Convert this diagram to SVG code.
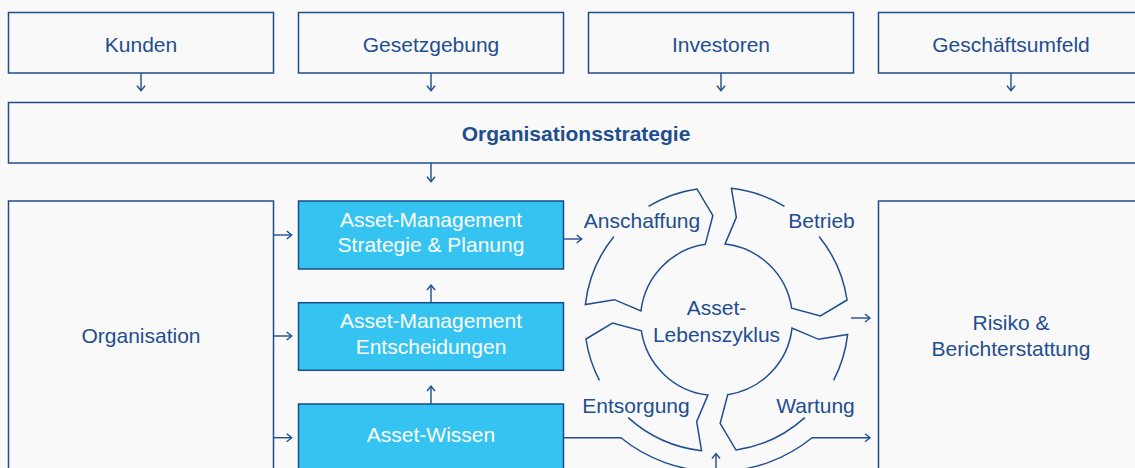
<svg xmlns="http://www.w3.org/2000/svg" width="1135" height="468" viewBox="0 0 1135 468">
<defs>
<style>
.bg{fill:#f9f9f9}
.box{fill:#f9f9f9;stroke:#1f4e8f;stroke-width:1.5}
.bbox{fill:#35c4f2;stroke:#1c4a8b;stroke-width:1.5}
.t{font-family:"Liberation Sans",Arial,sans-serif;font-size:21px;fill:#1f4e8f;text-anchor:middle}
.tw{font-family:"Liberation Sans",Arial,sans-serif;font-size:21px;fill:#ffffff;text-anchor:middle}
.tb{font-family:"Liberation Sans",Arial,sans-serif;font-size:21px;font-weight:bold;fill:#1f4e8f;text-anchor:middle}
.c{fill:none;stroke:#1f4e8f;stroke-width:1.4}
.seg{fill:none;stroke:#1f4e8f;stroke-width:1.5;stroke-linejoin:miter}
</style>
<marker id="ah" markerUnits="userSpaceOnUse" markerWidth="12" markerHeight="12" viewBox="-6 -6 12 12" refX="0" refY="0" orient="auto">
<path d="M-5,-4 L0,0 L-5,4" fill="none" stroke="#1f4e8f" stroke-width="1.4"/>
</marker>
</defs>
<rect class="bg" x="0" y="0" width="1135" height="468"/>

<g id="kunden"><rect class="box" x="8.5" y="12.5" width="265" height="60.5"/><text class="t" x="141" y="52">Kunden</text></g>
<g id="gesetzgebung"><rect class="box" x="298.5" y="12.5" width="265" height="60.5"/><text class="t" x="431" y="52">Gesetzgebung</text></g>
<g id="investoren"><rect class="box" x="588.5" y="12.5" width="265" height="60.5"/><text class="t" x="721" y="52">Investoren</text></g>
<g id="geschaeftsumfeld"><rect class="box" x="878.5" y="12.5" width="265" height="60.5"/><text class="t" x="1011" y="52">Geschäftsumfeld</text></g>

<g id="organisationsstrategie"><rect class="box" x="8.5" y="102.5" width="1135" height="60.5"/><text class="tb" x="576" y="141">Organisationsstrategie</text></g>

<g id="organisation"><rect class="box" x="8.5" y="201" width="265" height="280"/><text class="t" x="141" y="342.5">Organisation</text></g>

<g id="am-strategie"><rect class="bbox" x="298.5" y="201" width="265" height="68"/><text class="tw" x="431" y="226.5">Asset-Management</text><text class="tw" x="431" y="252">Strategie &amp; Planung</text></g>
<g id="am-entscheidungen"><rect class="bbox" x="298.5" y="302.7" width="265" height="67.6"/><text class="tw" x="431" y="327.7">Asset-Management</text><text class="tw" x="431" y="354">Entscheidungen</text></g>
<g id="asset-wissen"><rect class="bbox" x="298.5" y="404" width="265" height="80"/><text class="tw" x="431" y="442">Asset-Wissen</text></g>

<g id="risiko"><rect class="box" x="878.5" y="201" width="265" height="280"/><text class="t" x="1011" y="330">Risiko &amp;</text><text class="t" x="1011" y="355.5">Berichterstattung</text></g>

<g id="lebenszyklus">
<path id="seg-anschaffung" class="seg" d="M648.51,206.35 A132,132 0 0,1 696.99,188.95 L712.87,215.56 L705.27,244.33 A76,76 0 0,0 640.99,310.90 L614.41,299.66 L585.35,304.56 A132,132 0 0,1 613.92,236.43"/>
<path id="seg-betrieb" class="seg" d="M819.08,236.43 A132,132 0 0,1 847.05,299.99 L820.44,315.87 L791.67,308.27 A76,76 0 0,0 725.10,243.99 L736.34,217.41 L731.44,188.35 A132,132 0 0,1 784.49,206.35"/>
<path id="seg-wartung" class="seg" d="M804.83,417.59 A132,132 0 0,1 736.01,450.05 L720.13,423.44 L727.73,394.67 A76,76 0 0,0 792.01,328.10 L818.59,339.34 L847.65,334.44 A132,132 0 0,1 833.59,380.45"/>
<path id="seg-entsorgung" class="seg" d="M599.41,380.45 A132,132 0 0,1 585.95,339.01 L612.56,323.13 L641.33,330.73 A76,76 0 0,0 707.90,395.01 L696.66,421.59 L701.56,450.65 A132,132 0 0,1 628.17,417.59"/>
<text class="t" x="642" y="228.3">Anschaffung</text>
<text class="t" x="821.5" y="228.3">Betrieb</text>
<text class="t" x="815.5" y="413.3">Wartung</text>
<text class="t" x="636" y="413.3">Entsorgung</text>
<text class="t" x="716.5" y="315">Asset-</text>
<text class="t" x="716.5" y="341.5">Lebenszyklus</text>
</g>

<g id="connectors">
<path class="c" d="M141,73 V90.7" marker-end="url(#ah)"/>
<path class="c" d="M431,73 V90.7" marker-end="url(#ah)"/>
<path class="c" d="M721,73 V90.7" marker-end="url(#ah)"/>
<path class="c" d="M1011,73 V90.7" marker-end="url(#ah)"/>
<path class="c" d="M431,163 V181.7" marker-end="url(#ah)"/>
<path class="c" d="M273.5,235 H291.7" marker-end="url(#ah)"/>
<path class="c" d="M273.5,336 H291.7" marker-end="url(#ah)"/>
<path class="c" d="M273.5,437.7 H291.7" marker-end="url(#ah)"/>
<path class="c" d="M431,302.7 V285" marker-end="url(#ah)"/>
<path class="c" d="M431,404 V386" marker-end="url(#ah)"/>
<path class="c" d="M563.5,239 H581.7" marker-end="url(#ah)"/>
<path class="c" d="M851,318 H870" marker-end="url(#ah)"/>
<path class="c" d="M563.5,437.7 H620.9 A152,152 0 0,0 812.1,437.7 H870" marker-end="url(#ah)"/>
<path class="c" d="M716,470 V453.5" marker-end="url(#ah)"/>
</g>
</svg>
